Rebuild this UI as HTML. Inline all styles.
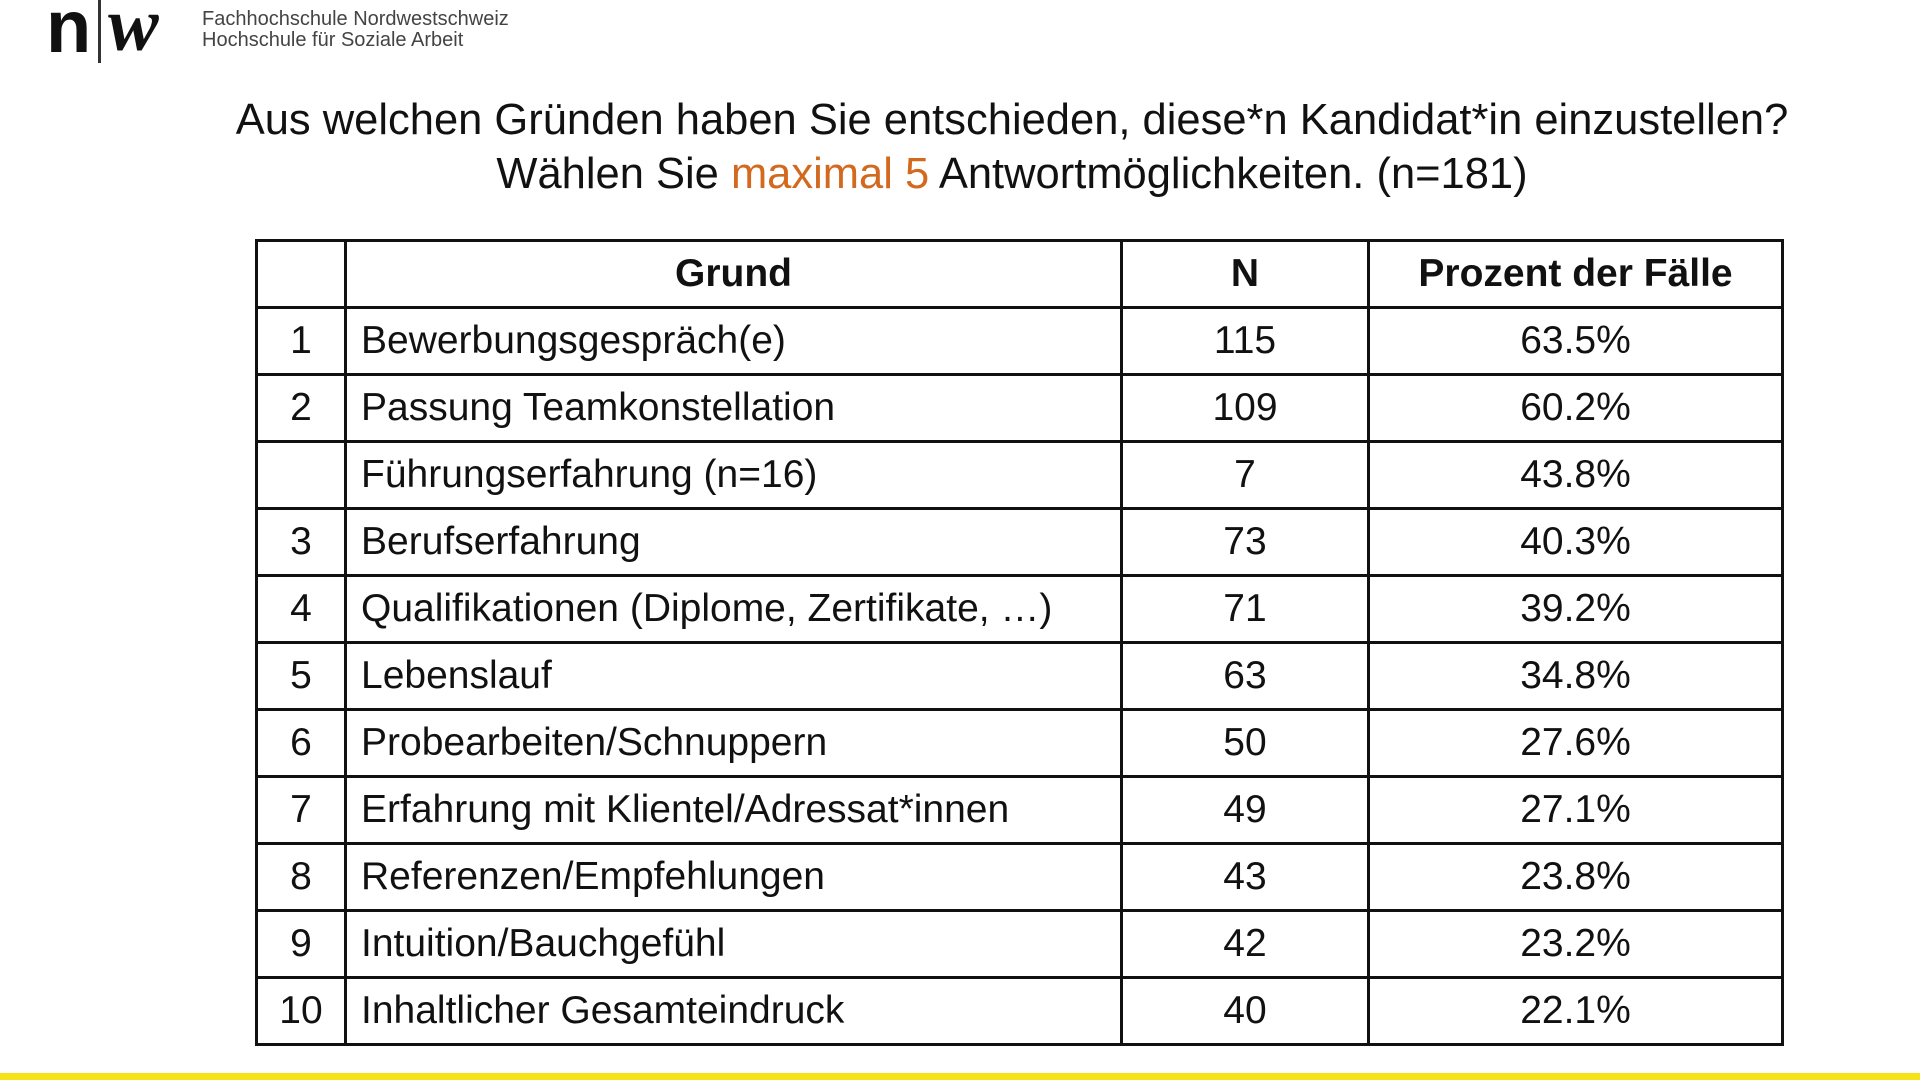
<!DOCTYPE html>
<html><head><meta charset="utf-8"><style>
body{margin:0;width:1920px;height:1080px;background:#fff;position:relative;overflow:hidden;font-family:"Liberation Sans",Arial,sans-serif;}
.logo-n{position:absolute;left:46px;top:-16px;font-size:74px;font-weight:bold;color:#111;}
.bar{position:absolute;left:98px;top:0;width:3px;height:63px;background:#333;}
.logo-w{position:absolute;left:108px;top:-18px;font-size:76px;font-style:italic;font-family:"Liberation Serif",serif;font-weight:bold;color:#111;}
.ltext{position:absolute;left:202px;top:9px;font-size:20px;line-height:21px;color:#444;}
.title{position:absolute;left:0;width:2024px;top:93px;text-align:center;font-size:43.5px;line-height:54px;color:#111;}
.or{color:#d2691e;}
table{position:absolute;left:255px;top:239px;width:1529px;border-collapse:collapse;font-size:39px;color:#111;}
td,th{border:3px solid #111;height:64px;padding:0;}
th{font-weight:bold;font-size:39px;}
td.c{text-align:center;} td.l{padding-left:14px;}
.yl{position:absolute;left:0;top:1073px;width:1920px;height:7px;background:#f7e219;}
</style></head><body>
<div class="logo-n">n</div><div class="bar"></div><div class="logo-w">w</div>
<div class="ltext">Fachhochschule Nordwestschweiz<br>Hochschule für Soziale Arbeit</div>
<div class="title">Aus welchen Gründen haben Sie entschieden, diese*n Kandidat*in einzustellen?<br>Wählen Sie <span class="or">maximal 5</span> Antwortmöglichkeiten. (n=181)</div>
<table>
<colgroup><col style="width:89px"><col style="width:776px"><col style="width:247px"><col></colgroup>
<tr><th></th><th>Grund</th><th>N</th><th>Prozent der Fälle</th></tr>
<tr><td class="c">1</td><td class="l">Bewerbungsgespräch(e)</td><td class="c">115</td><td class="c">63.5%</td></tr>
<tr><td class="c">2</td><td class="l">Passung Teamkonstellation</td><td class="c">109</td><td class="c">60.2%</td></tr>
<tr><td class="c"></td><td class="l">Führungserfahrung (n=16)</td><td class="c">7</td><td class="c">43.8%</td></tr>
<tr><td class="c">3</td><td class="l">Berufserfahrung</td><td class="c">73</td><td class="c">40.3%</td></tr>
<tr><td class="c">4</td><td class="l">Qualifikationen (Diplome, Zertifikate, …)</td><td class="c">71</td><td class="c">39.2%</td></tr>
<tr><td class="c">5</td><td class="l">Lebenslauf</td><td class="c">63</td><td class="c">34.8%</td></tr>
<tr><td class="c">6</td><td class="l">Probearbeiten/Schnuppern</td><td class="c">50</td><td class="c">27.6%</td></tr>
<tr><td class="c">7</td><td class="l">Erfahrung mit Klientel/Adressat*innen</td><td class="c">49</td><td class="c">27.1%</td></tr>
<tr><td class="c">8</td><td class="l">Referenzen/Empfehlungen</td><td class="c">43</td><td class="c">23.8%</td></tr>
<tr><td class="c">9</td><td class="l">Intuition/Bauchgefühl</td><td class="c">42</td><td class="c">23.2%</td></tr>
<tr><td class="c">10</td><td class="l">Inhaltlicher Gesamteindruck</td><td class="c">40</td><td class="c">22.1%</td></tr>
</table>
<div class="yl"></div>
</body></html>
